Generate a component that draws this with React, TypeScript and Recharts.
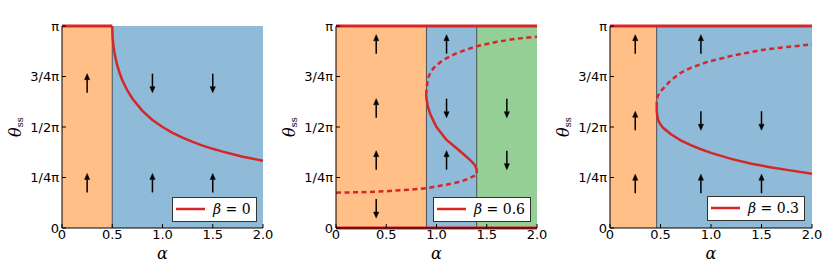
import React from 'react';
import {
  ComposedChart,
  Line,
  Scatter,
  XAxis,
  YAxis,
  ReferenceArea,
  ReferenceLine,
  Legend,
  Label,
} from 'recharts';

// ---------- shared ticks ----------
const xTicks = [0, 0.5, 1, 1.5, 2];
const xTickLabels = ['0', '0.5', '1.0', '1.5', '2.0'];
const yTicks = [0, 0.25, 0.5, 0.75, 1]; // theta in units of pi
const yTickLabels = ['0', '1/4π', '1/2π', '3/4π', 'π'];

// ---------- panel (a) beta = 0 ----------
const aRegions = [
  { x1: 0, x2: 0.5, kind: 'orange' },
  { x1: 0.5, x2: 2, kind: 'blue' },
];
const aBoundaries = [0.5];
const aFlat = [
  [{ x: 0, y: 1 }, { x: 0.5, y: 1 }],
];
const aSolid = [
  [
    { x: 0.5, y: 1.0 }, { x: 0.502, y: 0.96 }, { x: 0.505, y: 0.936 }, { x: 0.51, y: 0.91 },
    { x: 0.52, y: 0.874 }, { x: 0.535, y: 0.835 }, { x: 0.55, y: 0.805 }, { x: 0.575, y: 0.765 },
    { x: 0.6, y: 0.732 }, { x: 0.65, y: 0.681 }, { x: 0.7, y: 0.641 }, { x: 0.8, y: 0.58 },
    { x: 0.9, y: 0.535 }, { x: 1.0, y: 0.5 }, { x: 1.1, y: 0.471 }, { x: 1.2, y: 0.447 },
    { x: 1.3, y: 0.426 }, { x: 1.4, y: 0.408 }, { x: 1.5, y: 0.392 }, { x: 1.6, y: 0.378 },
    { x: 1.7, y: 0.365 }, { x: 1.8, y: 0.353 }, { x: 1.9, y: 0.343 }, { x: 2.0, y: 0.333 },
  ],
];
const aDashed: { x: number; y: number }[][] = [];
const aArrows = [
  { x: 0.25, y: 0.717, dir: 'up' }, { x: 0.25, y: 0.223, dir: 'up' },
  { x: 0.9, y: 0.717, dir: 'down' }, { x: 0.9, y: 0.223, dir: 'up' },
  { x: 1.5, y: 0.717, dir: 'down' }, { x: 1.5, y: 0.223, dir: 'up' },
];

// ---------- panel (b) beta = 0.6 ----------
const bRegions = [
  { x1: 0, x2: 0.9, kind: 'orange' },
  { x1: 0.9, x2: 1.4, kind: 'blue' },
  { x1: 1.4, x2: 2, kind: 'green' },
];
const bBoundaries = [0.9, 1.4];
const bFlat = [
  [{ x: 0, y: 1 }, { x: 2, y: 1 }],
  [{ x: 0, y: 0 }, { x: 2, y: 0 }],
];
const bSolid = [
  [
    { x: 1.402, y: 0.27 }, { x: 1.398, y: 0.292 }, { x: 1.385, y: 0.308 }, { x: 1.36, y: 0.324 },
    { x: 1.333, y: 0.337 }, { x: 1.27, y: 0.365 }, { x: 1.2, y: 0.395 }, { x: 1.1, y: 0.436 },
    { x: 1.0, y: 0.5 }, { x: 0.965, y: 0.535 }, { x: 0.935, y: 0.568 }, { x: 0.913, y: 0.605 },
    { x: 0.902, y: 0.635 }, { x: 0.897, y: 0.66 },
  ],
];
const bDashed = [
  [
    { x: 0, y: 0.175 }, { x: 0.3, y: 0.178 }, { x: 0.5, y: 0.182 }, { x: 0.74, y: 0.19 },
    { x: 0.9, y: 0.197 }, { x: 1.07, y: 0.212 }, { x: 1.2, y: 0.225 }, { x: 1.27, y: 0.235 },
    { x: 1.33, y: 0.247 }, { x: 1.38, y: 0.259 }, { x: 1.402, y: 0.27 },
  ],
  [
    { x: 0.897, y: 0.66 }, { x: 0.902, y: 0.692 }, { x: 0.91, y: 0.722 }, { x: 0.918, y: 0.745 },
    { x: 0.94, y: 0.77 }, { x: 0.968, y: 0.79 }, { x: 1.0, y: 0.806 }, { x: 1.068, y: 0.832 },
    { x: 1.2, y: 0.866 }, { x: 1.4, y: 0.9 }, { x: 1.6, y: 0.922 }, { x: 1.8, y: 0.937 },
    { x: 2.0, y: 0.947 },
  ],
];
const bArrows = [
  { x: 0.4, y: 0.91, dir: 'up' }, { x: 0.4, y: 0.593, dir: 'up' },
  { x: 0.4, y: 0.336, dir: 'up' }, { x: 0.4, y: 0.096, dir: 'down' },
  { x: 1.1, y: 0.91, dir: 'up' }, { x: 1.1, y: 0.593, dir: 'down' },
  { x: 1.1, y: 0.336, dir: 'up' },
  { x: 1.7, y: 0.593, dir: 'down' }, { x: 1.7, y: 0.336, dir: 'down' },
];

// ---------- panel (c) beta = 0.3 ----------
const cRegions = [
  { x1: 0, x2: 0.462, kind: 'orange' },
  { x1: 0.462, x2: 2, kind: 'blue' },
];
const cBoundaries = [0.462];
const cFlat = [
  [{ x: 0, y: 1 }, { x: 2, y: 1 }],
];
const cSolid = [
  [
    { x: 0.462, y: 0.6 }, { x: 0.463, y: 0.58 }, { x: 0.468, y: 0.555 }, { x: 0.48, y: 0.53 },
    { x: 0.5, y: 0.512 }, { x: 0.528, y: 0.495 }, { x: 0.6, y: 0.465 }, { x: 0.7, y: 0.434 },
    { x: 0.8, y: 0.41 }, { x: 0.9, y: 0.39 }, { x: 1.0, y: 0.372 }, { x: 1.2, y: 0.342 },
    { x: 1.4, y: 0.318 }, { x: 1.6, y: 0.3 }, { x: 1.8, y: 0.284 }, { x: 2.0, y: 0.269 },
  ],
];
const cDashed = [
  [
    { x: 0.462, y: 0.6 }, { x: 0.463, y: 0.625 }, { x: 0.47, y: 0.65 }, { x: 0.49, y: 0.67 },
    { x: 0.512, y: 0.683 }, { x: 0.6, y: 0.73 }, { x: 0.693, y: 0.766 }, { x: 0.8, y: 0.793 },
    { x: 0.957, y: 0.821 }, { x: 1.2, y: 0.852 }, { x: 1.5, y: 0.881 }, { x: 1.75, y: 0.896 },
    { x: 2.0, y: 0.909 },
  ],
];
const cArrows = [
  { x: 0.25, y: 0.91, dir: 'up' }, { x: 0.25, y: 0.531, dir: 'up' }, { x: 0.25, y: 0.219, dir: 'up' },
  { x: 0.9, y: 0.91, dir: 'up' }, { x: 0.9, y: 0.531, dir: 'down' }, { x: 0.9, y: 0.219, dir: 'up' },
  { x: 1.5, y: 0.531, dir: 'down' }, { x: 1.5, y: 0.219, dir: 'up' },
];

// ---------- styles ----------
const RED = '#d62728';
const FILL: Record<string, string> = { orange: '#ffbf86', blue: '#8fbbd9', green: '#95cf95' };
const TICK_FONT = { fill: '#000', fontSize: 13, fontFamily: 'DejaVu Sans' };

const ArrowShape = (props: any) => {
  const { cx, cy, payload } = props;
  if (cx == null || cy == null) return null;
  const half = 9.5;
  const up = payload.dir === 'up';
  const tip = up ? cy - half : cy + half;
  const tail = up ? cy + half : cy - half;
  const base = up ? tip + 6 : tip - 6;
  return (
    <g>
      <line x1={cx} x2={cx} y1={tail} y2={base} stroke="#000" strokeWidth={1.5} />
      <polygon points={`${cx},${tip} ${cx - 2.6},${base} ${cx + 2.6},${base}`} fill="#000" stroke="#000" strokeWidth={0.5} />
    </g>
  );
};

const LegendBox = ({ label, w }: { label: string; w: number }) => (
  <div
    style={{
      width: w,
      height: 25,
      boxSizing: 'border-box',
      border: '1px solid #333',
      background: '#fff',
      position: 'relative',
    }}
  >
    <svg width={40} height={23} style={{ position: 'absolute', left: 0, top: 0 }}>
      <line x1={3} x2={32} y1={11} y2={11} stroke={RED} strokeWidth={2.5} />
    </svg>
    <span
      style={{
        position: 'absolute',
        left: 40,
        top: 2,
        fontFamily: 'DejaVu Serif',
        fontSize: 14,
        lineHeight: '18px',
        whiteSpace: 'nowrap',
        color: '#000',
      }}
    >
      <i>β</i> = {label}
    </span>
  </div>
);

type Pt = { x: number; y: number };
type PanelProps = {
  left: number;
  width: number;
  plotLeft: number;
  plotRight: number;
  title: string;
  regions: { x1: number; x2: number; kind: string }[];
  boundaries: number[];
  flat: Pt[][];
  solid: Pt[][];
  dashed: Pt[][];
  arrows: { x: number; y: number; dir: string }[];
  beta: string;
  legendLeft: number;
  legendTop: number;
  legendWidth: number;
};

const YW = 40;

const Panel = (p: PanelProps) => {
  const plotWidth = p.width - p.plotLeft - p.plotRight;
  return (
    <div style={{ position: 'absolute', left: p.left, top: 0 }}>
      <ComposedChart
        width={p.width}
        height={272}
        margin={{ top: 26, right: p.plotRight, bottom: 14, left: p.plotLeft - YW }}
      >
        <XAxis
          dataKey="x"
          type="number"
          domain={[0, 2]}
          ticks={xTicks}
          tickFormatter={(v: number) => xTickLabels[xTicks.indexOf(v)] ?? ''}
          tickSize={-4}
          tickMargin={6}
          height={30}
          stroke="#000"
          tick={TICK_FONT}
          interval={0}
        >
          <Label
            content={() => (
              <text
                x={p.plotLeft + plotWidth / 2}
                y={259}
                textAnchor="middle"
                fontFamily="DejaVu Serif"
                fontStyle="italic"
                fontSize={16}
                fill="#000"
              >
                α
              </text>
            )}
          />
        </XAxis>
        <XAxis
          xAxisId="t"
          orientation="top"
          dataKey="x"
          type="number"
          domain={[0, 2]}
          ticks={xTicks}
          tickFormatter={() => ''}
          tickSize={-4}
          height={0}
          stroke="#000"
          interval={0}
        >
          <Label
            content={() => (
              <text
                x={p.plotLeft + 11}
                y={18}
                fontFamily="DejaVu Sans"
                fontWeight="bold"
                fontSize={15}
                fill="#000"
              >
                {p.title}
              </text>
            )}
          />
        </XAxis>
        <YAxis
          dataKey="y"
          type="number"
          domain={[0, 1]}
          ticks={yTicks}
          tickFormatter={(v: number) => yTickLabels[yTicks.indexOf(v)] ?? ''}
          tickSize={-4}
          tickMargin={7}
          width={YW}
          stroke="#000"
          tick={TICK_FONT}
          interval={0}
        >
          <Label
            content={() => {
              const cx = p.plotLeft - 47;
              const cy = 127;
              return (
                <text
                  x={cx}
                  y={cy}
                  transform={`rotate(-90, ${cx}, ${cy})`}
                  textAnchor="middle"
                  dominantBaseline="central"
                  fontFamily="DejaVu Serif"
                  fontSize={16}
                  fill="#000"
                >
                  <tspan fontStyle="italic">θ</tspan>
                  <tspan fontSize={10} dy={4}>ss</tspan>
                </text>
              );
            }}
          />
        </YAxis>
        <YAxis
          yAxisId="r"
          orientation="right"
          dataKey="y"
          type="number"
          domain={[0, 1]}
          ticks={yTicks}
          tickFormatter={() => ''}
          tickSize={-4}
          width={0}
          stroke="#000"
          interval={0}
        />

        {p.regions.map((r, i) => (
          <ReferenceArea
            key={'r' + i}
            x1={r.x1}
            x2={r.x2}
            y1={0}
            y2={1}
            fill={FILL[r.kind]}
            fillOpacity={1}
            stroke="none"
          />
        ))}
        {p.boundaries.map((b, i) => (
          <ReferenceLine key={'b' + i} x={b} stroke="#4a4f55" strokeWidth={1} />
        ))}

        {p.flat.map((d, i) => (
          <Line
            key={'f' + i}
            data={d}
            dataKey="y"
            stroke={RED}
            strokeWidth={3}
            dot={false}
            activeDot={false}
            isAnimationActive={false}
            type="linear"
          />
        ))}
        {p.solid.map((d, i) => (
          <Line
            key={'s' + i}
            data={d}
            dataKey="y"
            stroke={RED}
            strokeWidth={2.5}
            dot={false}
            activeDot={false}
            isAnimationActive={false}
            type="linear"
          />
        ))}
        {p.dashed.map((d, i) => (
          <Line
            key={'d' + i}
            data={d}
            dataKey="y"
            stroke={RED}
            strokeWidth={2.5}
            strokeDasharray="5 3.5"
            dot={false}
            activeDot={false}
            isAnimationActive={false}
            type="linear"
          />
        ))}
        <Scatter data={p.arrows} dataKey="y" shape={ArrowShape} isAnimationActive={false} />

        <Legend
          layout="vertical"
          align="center"
          verticalAlign="middle"
          wrapperStyle={{
            position: 'absolute',
            left: p.legendLeft,
            top: p.legendTop,
            width: p.legendWidth,
            height: 25,
            bottom: 'auto',
            right: 'auto',
            margin: 0,
          }}
          content={() => <LegendBox label={p.beta} w={p.legendWidth} />}
        />
      </ComposedChart>
    </div>
  );
}

export default function App() {
  return (
    <div
      style={{
        position: 'absolute',
        left: 0,
        top: 0,
        width: 831,
        height: 272,
        background: '#fff',
        overflow: 'hidden',
      }}
    >
      <Panel
        left={0}
        width={280}
        plotLeft={62}
        plotRight={17}
        title="(a)"
        regions={aRegions}
        boundaries={aBoundaries}
        flat={aFlat}
        solid={aSolid}
        dashed={aDashed}
        arrows={aArrows}
        beta="0"
        legendLeft={172}
        legendTop={197}
        legendWidth={85}
      />
      <Panel
        left={280}
        width={280}
        plotLeft={56}
        plotRight={23}
        title="(b)"
        regions={bRegions}
        boundaries={bBoundaries}
        flat={bFlat}
        solid={bSolid}
        dashed={bDashed}
        arrows={bArrows}
        beta="0.6"
        legendLeft={153}
        legendTop={197}
        legendWidth={98}
      />
      <Panel
        left={550}
        width={281}
        plotLeft={60}
        plotRight={19}
        title="(c)"
        regions={cRegions}
        boundaries={cBoundaries}
        flat={cFlat}
        solid={cSolid}
        dashed={cDashed}
        arrows={cArrows}
        beta="0.3"
        legendLeft={157}
        legendTop={196}
        legendWidth={98}
      />
    </div>
  );
}
